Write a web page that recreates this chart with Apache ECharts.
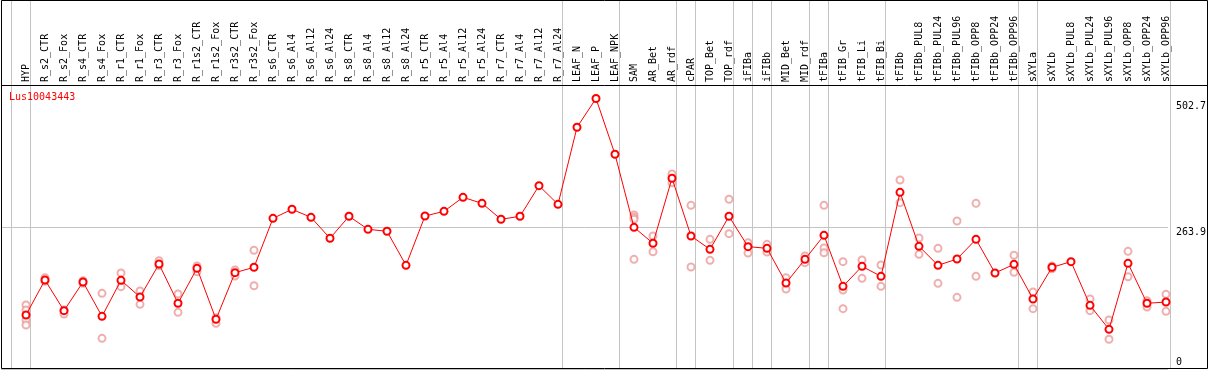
<!DOCTYPE html>
<html>
<head>
<meta charset="utf-8">
<script src="https://cdn.jsdelivr.net/npm/echarts@6/dist/echarts.min.js"></script>
<style>
html,body{margin:0;padding:0;background:#fff;}
#chart{width:1209px;height:370px;}
</style>
</head>
<body>
<div id="chart"></div>
<script>
const categories = ["HYP","R_s2_CTR","R_s2_Fox","R_s4_CTR","R_s4_Fox","R_r1_CTR","R_r1_Fox","R_r3_CTR","R_r3_Fox","R_r1s2_CTR","R_r1s2_Fox","R_r3s2_CTR","R_r3s2_Fox","R_s6_CTR","R_s6_Al4","R_s6_Al12","R_s6_Al24","R_s8_CTR","R_s8_Al4","R_s8_Al12","R_s8_Al24","R_r5_CTR","R_r5_Al4","R_r5_Al12","R_r5_Al24","R_r7_CTR","R_r7_Al4","R_r7_Al12","R_r7_Al24","LEAF_N","LEAF_P","LEAF_NPK","SAM","AR_Bet","AR_rdf","cPAR","TOP_Bet","TOP_rdf","iFIBa","iFIBb","MID_Bet","MID_rdf","tFIBa","tFIB_Gr","tFIB_Li","tFIB_Bi","tFIBb","tFIBb_PUL8","tFIBb_PUL24","tFIBb_PUL96","tFIBb_OPP8","tFIBb_OPP24","tFIBb_OPP96","sXYLa","sXYLb","sXYLb_PUL8","sXYLb_PUL24","sXYLb_PUL96","sXYLb_OPP8","sXYLb_OPP24","sXYLb_OPP96"];

const meanValues = [100.4,165.4,108.4,161.7,97.9,164.8,133.8,195.1,122.1,187.1,92.3,179.0,189.0,280.0,296.8,281.9,242.9,283.8,259.6,255.9,192.7,284.4,293.0,319.0,307.9,278.2,283.8,340.7,306.0,449.2,502.7,399.0,263.3,233.6,354.4,247.2,222.4,283.8,227.4,224.3,159.8,203.8,248.4,153.6,190.8,172.2,328.3,228.0,192.7,204.4,241.0,178.4,194.5,130.1,189.0,199.5,118.3,73.7,196.4,122.1,124.5];

const replicates = [
  [118.9,109.7,91.1,81.8],[169.7,163.0],[109.6,102.2],[164.1,159.2],[140.6,57.0],
  [178.4,153.0],[145.0,120.2],[201.3,192.0],[139.4,105.3],[191.4,180.8],
  [95.3,84.9],[184.0,172.8],[220.6,154.8],[],[],
  [],[],[],[],[],
  [],[],[],[],[],
  [],[],[],[],[],
  [],[],[286.2,281.9,278.2,203.8],[247.2,218.0],[362.4,346.2],
  [304.2,189.6],[241.0,202.0],[315.4,251.5],[234.7,215.6],[231.7,217.4],
  [169.7,148.7],[210.0,197.6],[304.2,224.9,216.1],[199.5,146.8,112.1],[202.6,168.5],
  [193.3,153.6],[351.3,309.1],[243.5,213.1],[224.3,159.2],[275.0,133.2],
  [307.9,172.2],[],[211.3,179.7],[143.1,112.1],[191.4,186.4],
  [],[130.1,108.4],[91.1,55.2],[218.7,171.5],[126.9,115.2],
  [138.8,107.2]
];

// index of the first category of each group (grey separators)
const groupStarts = [0,1,29,32,35,36,38,39,40,42,43,46,53,54];

const yTickValues = [0, 263.9, 502.7];
const yTickLabels = ["0", "263.9", "502.7"];
const yMax = 527.8;
const yStep = 263.9;
const geneName = "Lus10043443";

const MONO = "DejaVu Sans Mono";

const replicateData = [];
replicates.forEach((arr, i) => arr.forEach(v => replicateData.push([i, v])));

const chart = echarts.init(document.getElementById('chart'), null, {renderer: 'canvas'});

const option = {
  animation: false,
  backgroundColor: '#fff',
  title: {
    text: geneName, left: 9, top: 92, padding: 0,
    textStyle: {color: '#ff0000', fontFamily: MONO, fontSize: 10, fontWeight: 'normal'}
  },
  grid: [
    {left: 11.5, right: 38.5, top: 0, bottom: 1, containLabel: false},
    {left: 1, right: 38.5, top: 85, bottom: 1, containLabel: false},
    {left: 16.5, right: 33.5, top: 85, bottom: 1, containLabel: false}
  ],
  xAxis: [
    {
      gridIndex: 0, type: 'category', data: categories, boundaryGap: true,
      axisLine: {show: false}, axisTick: {show: false}, axisLabel: {show: false},
      splitLine: {show: true, showMinLine: true, showMaxLine: true,
        interval: (idx) => groupStarts.indexOf(idx) >= 0,
        lineStyle: {color: '#c4c4c4', width: 1}}
    },
    {gridIndex: 1, type: 'value', show: false, min: 0, max: 1},
    {
      gridIndex: 2, type: 'category', data: categories, boundaryGap: true, position: 'top',
      axisLine: {show: false}, axisTick: {show: false}, splitLine: {show: false},
      axisLabel: {show: true, interval: 0, rotate: 90, margin: 3, color: '#000',
        fontFamily: MONO, fontSize: 10}
    }
  ],
  yAxis: [
    {gridIndex: 0, type: 'value', show: false, min: 0, max: 1, splitLine: {show: false}},
    {
      gridIndex: 1, type: 'value', position: 'right', min: 0, max: yMax, interval: yStep,
      axisLine: {show: false}, axisTick: {show: false},
      splitLine: {show: true, lineStyle: {color: '#c4c4c4', width: 1}},
      axisLabel: {
        show: true, margin: 8, color: '#000', fontFamily: MONO, fontSize: 10,
        customValues: yTickValues,
        formatter: (v) => {
          const k = yTickValues.findIndex(t => Math.abs(t - v) < 1e-6);
          const txt = k >= 0 ? yTickLabels[k] : '';
          if (k === 0) return '{b|' + txt + '}';
          if (k === 2) return '{t|' + txt + '}';
          return '{m|' + txt + '}';
        },
        rich: {
          b: {fontFamily: MONO, fontSize: 10, color: '#000', padding: [0, 0, 14, 0]},
          m: {fontFamily: MONO, fontSize: 10, color: '#000', padding: [10, 0, 0, 0]},
          t: {fontFamily: MONO, fontSize: 10, color: '#000', padding: [16, 0, 0, 0]}
        }
      }
    },
    {gridIndex: 2, type: 'value', show: false, min: 0, max: yMax, splitLine: {show: false}}
  ],
  series: [
    {
      type: 'scatter', xAxisIndex: 2, yAxisIndex: 2, data: replicateData,
      symbol: 'emptyCircle', symbolSize: 7, z: 2, silent: true,
      itemStyle: {color: '#eb9b9b', borderColor: '#eb9b9b', borderWidth: 1.3}
    },
    {
      type: 'line', xAxisIndex: 2, yAxisIndex: 2, data: meanValues,
      symbol: 'emptyCircle', symbolSize: 7, showAllSymbol: true, z: 3, silent: true,
      lineStyle: {color: '#ff0000', width: 1},
      itemStyle: {color: '#ff0000', borderColor: '#ff0000', borderWidth: 1.4}
    }
  ],
  graphic: [
    {type: 'rect', z: 100, silent: true,
      shape: {x: 1.5, y: 0.5, width: 1206, height: 368},
      style: {fill: null, stroke: '#000', lineWidth: 1}},
    {type: 'line', z: 100, silent: true,
      shape: {x1: 1, y1: 85.5, x2: 1208, y2: 85.5},
      style: {stroke: '#000', lineWidth: 1}}
  ]
};
chart.setOption(option);
</script>
</body>
</html>
